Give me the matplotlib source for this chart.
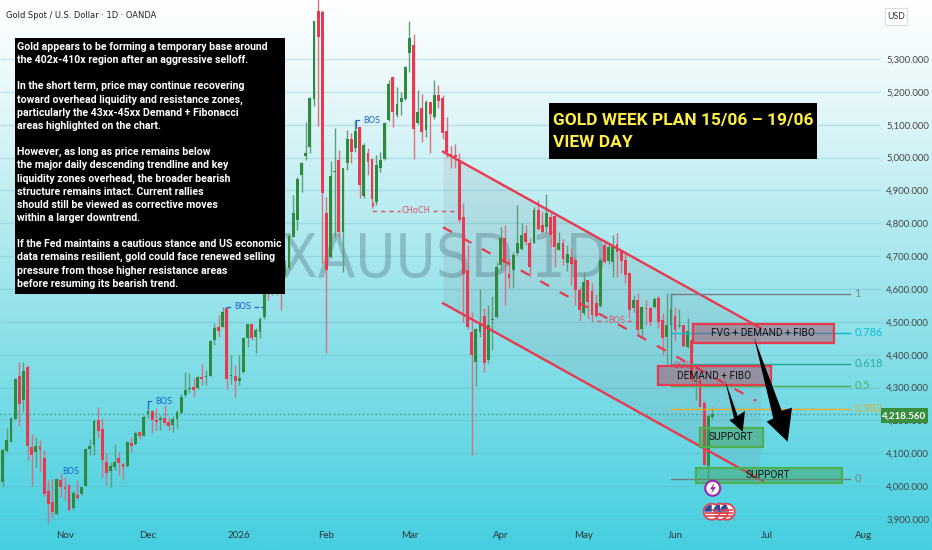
import numpy as np
import matplotlib
matplotlib.use("Agg")
import matplotlib.pyplot as plt
from matplotlib.colors import LinearSegmentedColormap
from matplotlib.patches import Rectangle, Polygon, Circle, Wedge
from matplotlib.transforms import Affine2D

plt.rcParams['font.family'] = ['Lato', 'DejaVu Sans']

# daily candles
opens = [
    4014, 4108, 4135, 4203, 4335, 4262, 4363, 4120, 4105, 4122,
    4085, 3986, 3953, 3914, 4019, 3996, 4003, 3932, 3973, 3975,
    4001, 4112, 4125, 4201, 4174, 4074, 4047, 4059, 4086, 4067,
    4061, 4132, 4128, 4164, 4153, 4219, 4229, 4201, 4201, 4206,
    4196, 4186, 4203, 4224, 4277, 4297, 4303, 4299, 4333, 4331,
    4335, 4444, 4485, 4485, 4541, 4335, 4336, 4321, 4348, 4450,
    4495, 4453, 4470, 4516, 4627, 4587, 4620, 4617, 4643, 4663,
    4759, 4810, 4947, 5005, 5031, 5177, 5446, 5444, 4830, 4698,
    4957, 4993, 4774, 4984, 5055, 5028, 5092, 4883, 5015, 4996,
    4866, 4967, 4996, 5114, 5244, 5130, 5170, 5177, 5317, 5343,
    5104, 5150, 5084, 5170, 5124, 5190, 5180, 5082, 5011, 5008,
    4993, 4820, 4658, 4470, 4379, 4470, 4518, 4384, 4507, 4514,
    4673, 4754, 4646, 4658, 4710, 4722, 4771, 4741, 4741, 4840,
    4795, 4790, 4820, 4822, 4719, 4741, 4678, 4696, 4688, 4597,
    4526, 4627, 4595, 4556, 4548, 4734, 4686, 4683, 4737, 4719,
    4688, 4650, 4541, 4567, 4477, 4541, 4541, 4544, 4572, 4506,
    4455, 4491, 4518, 4488, 4491, 4423, 4445, 4318, 4323, 4252,
    4060, 4210,
]
highs = [
    4115, 4176, 4211, 4328, 4377, 4377, 4370, 4158, 4150, 4140,
    4110, 4019, 4024, 4024, 4041, 4029, 4006, 3986, 4019, 3998,
    4115, 4145, 4203, 4242, 4206, 4102, 4074, 4128, 4105, 4074,
    4138, 4150, 4169, 4164, 4216, 4260, 4232, 4237, 4216, 4247,
    4211, 4213, 4232, 4280, 4348, 4345, 4328, 4335, 4372, 4355,
    4444, 4497, 4520, 4546, 4546, 4399, 4368, 4399, 4455, 4495,
    4495, 4480, 4515, 4620, 4635, 4640, 4622, 4617, 4688, 4769,
    4886, 4940, 4987, 5109, 5185, 5417, 5500, 5449, 4881, 4990,
    5089, 5023, 4967, 5084, 5074, 5114, 5094, 5043, 5028, 4998,
    5008, 5018, 5109, 5236, 5248, 5216, 5200, 5279, 5417, 5376,
    5206, 5192, 5175, 5170, 5236, 5221, 5190, 5124, 5035, 5041,
    5013, 4862, 4734, 4531, 4480, 4599, 4541, 4551, 4579, 4683,
    4790, 4795, 4693, 4713, 4855, 4800, 4795, 4754, 4850, 4870,
    4835, 4889, 4835, 4825, 4774, 4751, 4734, 4724, 4693, 4607,
    4653, 4627, 4617, 4586, 4693, 4749, 4744, 4764, 4769, 4719,
    4708, 4653, 4582, 4587, 4548, 4567, 4544, 4577, 4579, 4526,
    4587, 4582, 4544, 4538, 4491, 4511, 4480, 4328, 4330, 4258,
    4220, 4242,
]
lows = [
    3996, 4105, 4135, 4201, 4184, 4226, 4079, 4000, 4059, 4044,
    3970, 3887, 3907, 3912, 3968, 3958, 3925, 3927, 3960, 3973,
    4000, 4095, 4095, 4150, 4029, 4003, 3996, 4049, 4034, 4019,
    4059, 4105, 4125, 4142, 4152, 4206, 4161, 4171, 4171, 4186,
    4171, 4166, 4176, 4221, 4272, 4282, 4270, 4297, 4308, 4308,
    4335, 4429, 4455, 4483, 4297, 4311, 4272, 4308, 4345, 4424,
    4445, 4404, 4450, 4510, 4566, 4582, 4582, 4535, 4637, 4658,
    4757, 4780, 4896, 4993, 5013, 5157, 5096, 4678, 4405, 4693,
    4759, 4757, 4653, 4962, 4984, 5018, 4876, 4876, 4947, 4845,
    4856, 4957, 4993, 5112, 5092, 5124, 5130, 5175, 5261, 4995,
    5102, 5048, 5064, 5015, 5117, 5150, 5055, 5003, 4967, 4967,
    4805, 4500, 4477, 4095, 4305, 4453, 4348, 4374, 4414, 4511,
    4658, 4551, 4602, 4602, 4703, 4719, 4734, 4637, 4739, 4781,
    4770, 4769, 4729, 4668, 4718, 4673, 4656, 4612, 4551, 4505,
    4521, 4511, 4500, 4515, 4546, 4678, 4676, 4637, 4637, 4648,
    4617, 4511, 4531, 4460, 4450, 4491, 4486, 4541, 4480, 4399,
    4369, 4483, 4445, 4480, 4423, 4420, 4318, 4262, 4240, 4065,
    4024, 4205,
]
closes = [
    4110, 4140, 4206, 4325, 4250, 4351, 4122, 4095, 4122, 4110,
    3975, 3946, 3920, 4021, 3996, 3990, 3927, 3978, 3963, 3996,
    4112, 4122, 4199, 4168, 4079, 4041, 4062, 4074, 4071, 4057,
    4133, 4123, 4161, 4153, 4211, 4229, 4201, 4194, 4206, 4191,
    4183, 4203, 4226, 4272, 4294, 4300, 4294, 4333, 4327, 4335,
    4442, 4480, 4472, 4529, 4326, 4338, 4320, 4328, 4450, 4492,
    4450, 4475, 4510, 4597, 4597, 4625, 4607, 4587, 4668, 4762,
    4830, 4935, 4984, 5013, 5182, 5417, 5366, 4891, 4658, 4944,
    4960, 4774, 4967, 5055, 5018, 5082, 4917, 5038, 4988, 4874,
    4977, 4993, 5106, 5224, 5140, 5163, 5182, 5277, 5365, 5086,
    5138, 5077, 5170, 5133, 5190, 5172, 5074, 5018, 5008, 5003,
    4810, 4646, 4485, 4399, 4477, 4493, 4374, 4490, 4510, 4666,
    4754, 4678, 4632, 4703, 4739, 4764, 4744, 4666, 4840, 4784,
    4774, 4832, 4764, 4727, 4739, 4690, 4708, 4676, 4597, 4536,
    4622, 4561, 4521, 4519, 4688, 4683, 4727, 4727, 4713, 4686,
    4642, 4536, 4565, 4475, 4544, 4538, 4501, 4569, 4501, 4450,
    4491, 4538, 4475, 4491, 4427, 4473, 4322, 4323, 4242, 4065,
    4212, 4218.56,
]

price_ticks = np.arange(3900, 5301, 100)
month_ticks = [16, 36, 58, 78.9, 99.1, 121, 141, 163, 185.2, 208.3]
month_labels = ["Nov", "Dec", "2026", "Feb", "Mar", "Apr", "May", "Jun", "Jul", "Aug"]
last_price = 4218.56

fib_levels = [4586, 4467, 4372, 4306, 4236, 4022]
fib_labels = ["1", "0.786", "0.618", "0.5", "0.382", "0"]
fib_colors = ["#787b86", "#00bcd4", "#26a69a", "#4caf50", "#eeaa22", "#787b86"]

note_text = """Gold appears to be forming a temporary base around
the 402x-410x region after an aggressive selloff.

In the short term, price may continue recovering
toward overhead liquidity and resistance zones,
particularly the 43xx-45xx Demand + Fibonacci
areas highlighted on the chart.

However, as long as price remains below
the major daily descending trendline and key
liquidity zones overhead, the broader bearish
structure remains intact. Current rallies
should still be viewed as corrective moves
within a larger downtrend.

If the Fed maintains a cautious stance and US economic
data remains resilient, gold could face renewed selling
pressure from those higher resistance areas
before resuming its bearish trend."""

RED = "#e8394f"
GREEN = "#2e8b3e"
BLUE = "#1e62d0"
PINK = "#e0506a"
COND = dict(family="DejaVu Sans", stretch="condensed")

fig = plt.figure(figsize=(9.32, 5.5), dpi=100)
ax = fig.add_axes([0, 0, 1, 1])

# annotations sit on screen, so give them a pixel transform (y going down)
px = Affine2D().scale(1, -1).translate(0, 550)

cmap = LinearSegmentedColormap.from_list("bg", ["#ffffff", "#e2f6f9", "#b5ebf0", "#8ee0e9", "#69d8e4", "#45cfe0"])
ax.imshow(np.linspace(0, 1, 256).reshape(-1, 1), cmap=cmap, aspect="auto",
          extent=(0, 1, 0, 1), transform=ax.transAxes, zorder=0)
ax.set_xlim(0.357, 224.9)
ax.set_ylim(3805.7, 5479.5)

ax.hlines(price_ticks, 0.357, 212.4, color="#5fa8b8", alpha=0.25, lw=1, zorder=1)
ax.hlines(last_price, 0.357, 212.4, color="#2e8b6e", lw=1, ls=(0, (1, 2)), alpha=0.8, zorder=1)

ax.text(444, 260, "XAUUSD 1D", transform=px, fontsize=44, color="#5b7f8c", alpha=0.42,
        ha="center", va="center", zorder=2, **COND)

# descending channel
up_x, up_y = [107.1, 183.5], [5017.8, 4481.9]
lo_x, lo_y = [107.1, 184.1], [4556.5, 4015.7]
mid_x, mid_y = [107.1, 182.5], [4787.8, 4260]
ax.fill_between(up_x, up_y, [4556.5, 4020], color="#787b86", alpha=0.12, lw=0, zorder=2)

# candles
idx = np.arange(1, len(opens) + 1)
o, h, l, c = map(np.array, (opens, highs, lows, closes))
up = c >= o
ax.vlines(idx[up], l[up], h[up], color="#5f9e78", lw=1, zorder=3)
ax.vlines(idx[~up], l[~up], h[~up], color="#d8707f", lw=1, zorder=3)
ax.bar(idx[up], (c - o)[up], bottom=o[up], width=0.68, color=GREEN, zorder=4)
ax.bar(idx[~up], (c - o)[~up], bottom=o[~up], width=0.68, color=RED, zorder=4)

ax.plot(up_x, up_y, color=RED, lw=1.7, zorder=5)
ax.plot(lo_x, lo_y, color=RED, lw=1.7, zorder=5)
ax.plot(mid_x, mid_y, color=RED, lw=1.6, ls=(0, (4.5, 5.5)), zorder=5)

# fibonacci levels
for lvl, lab, col in zip(fib_levels, fib_labels, fib_colors):
    ax.plot([162, 205.2], [lvl, lvl], color=col, lw=1, zorder=5)
    ax.annotate(lab, (206.2, lvl), color=col, fontsize=8, va="center", ha="left", zorder=6, alpha=0.9)
ax.plot([162, 162], [4372, 4586], color="#4f8f85", lw=1, zorder=5)

# structure labels
for x, y, t in [(71, 472, "BOS"), (164, 401, "BOS"), (243, 306.5, "BOS"), (372, 120.5, "BOS")]:
    ax.text(x, y, t, transform=px, color=BLUE, fontsize=6.6, ha="center", va="center", zorder=6, **COND)
ax.plot([226, 232], [306.5, 306.5], transform=px, color=BLUE, lw=0.9, ls="--", zorder=5)
ax.plot([254, 263], [306.5, 306.5], transform=px, color=BLUE, lw=0.9, ls="--", zorder=5)
ax.plot([148, 148, 151], [408, 401, 401], transform=px, color=BLUE, lw=0.8, zorder=5)
ax.plot([356, 356, 359], [128, 120, 120], transform=px, color=BLUE, lw=0.8, zorder=5)

ax.text(416, 210.5, "CHoCH", transform=px, color=PINK, fontsize=6.6, ha="center", va="center", zorder=6, **COND)
ax.plot([373, 373, 400], [202, 210.7, 210.7], transform=px, color=PINK, lw=1, ls=(0, (3, 3)), zorder=5)
ax.plot([433, 457], [210.7, 210.7], transform=px, color=PINK, lw=1, ls=(0, (3, 3)), zorder=5)
ax.text(617, 320.5, "BOS", transform=px, color=PINK, fontsize=6.6, ha="center", va="center", zorder=6, **COND)
ax.plot([597, 607], [320.5, 320.5], transform=px, color=PINK, lw=1, ls=(0, (3, 3)), zorder=5)
ax.plot([627, 632], [320.5, 320.5], transform=px, color=PINK, lw=1, ls=(0, (3, 3)), zorder=5)
ax.text(681.5, 365, "BOS", transform=px, color=PINK, fontsize=6.6, ha="center", va="center", zorder=6, **COND)

# zones
zones = [
    (692.7, 324, 141, 19.3, RED, "#b8304a", "FVG + DEMAND + FIBO", 762.7, 332.5),
    (658.3, 366.3, 112.7, 18.7, RED, "#b8304a", "DEMAND + FIBO", 714.3, 375.7),
    (700.3, 427.7, 63, 19, "#4caf50", "#3c9a48", "SUPPORT", 731, 437),
    (695.7, 468, 146, 15.3, "#4caf50", "#3c9a48", "SUPPORT", 768.3, 474.5),
]
for x, y, w, hh, edge, face, lab, tx, ty in zones:
    ax.add_patch(Rectangle((x, y), w, hh, transform=px, facecolor=face, alpha=0.4, lw=0, zorder=6))
    ax.add_patch(Rectangle((x, y), w, hh, transform=px, fill=False, edgecolor=edge, lw=1.6, zorder=6))
    ax.text(tx, ty, lab, transform=px, color="#111111", fontsize=7.3, ha="center", va="center",
            family="Roboto", zorder=7)

# arrows
big = [(754, 337.3), (781.7, 410.7), (792, 407.7), (787.7, 441.7), (766.7, 421.7), (773.3, 418.3)]
small = [(725, 380), (737.7, 416), (745, 411), (742.7, 431.7), (729.3, 420), (734, 418.3)]
ax.add_patch(Polygon(big, closed=True, transform=px, color="black", lw=0, zorder=8))
ax.add_patch(Polygon(small, closed=True, transform=px, color="black", lw=0, zorder=8))

# event icons
ax.add_patch(Circle((712.7, 488.3), 7.5, transform=px, facecolor="white", edgecolor="#9c27b0", lw=1.5, zorder=8))
ax.add_patch(Polygon([(714.5, 483), (709.8, 489.3), (712.6, 489.3), (711, 493.8), (716, 487.2), (713.2, 487.2)],
                     closed=True, transform=px, color="#9c27b0", lw=0, zorder=9))
for fx in [726.7, 720, 711.7]:
    ax.add_patch(Circle((fx, 511.7), 8, transform=px, facecolor="white", edgecolor="#e0434f", lw=1.3, zorder=8))
    for dy in (-3.2, 0, 3.2):
        ax.plot([fx - 6.5, fx + 6.5], [511.7 + dy + 1.2, 511.7 + dy + 1.2], transform=px, color="#e0434f", lw=1.2,
                solid_capstyle="butt", zorder=9)
    ax.add_patch(Wedge((fx, 511.7), 7, 180, 270, transform=px, facecolor="#2b4c9b", lw=0, zorder=9))

# text boxes
ax.add_patch(Rectangle((14.5, 37.5), 270.5, 256.5, transform=px, color="black", lw=0, zorder=10))
ax.text(17, 41.5, note_text, transform=px, color="white", fontsize=7.55, weight="bold", ha="left", va="top",
        linespacing=1.385, family="Roboto", zorder=11)
ax.add_patch(Rectangle((549, 103.3), 267.7, 56, transform=px, color="black", lw=0, zorder=10))
ax.text(553, 120.7, "GOLD WEEK PLAN 15/06 – 19/06", transform=px, color="#ffee44", fontsize=12.5, weight="bold",
        ha="left", va="center", family="Roboto", zorder=11)
ax.text(553, 142.7, "VIEW DAY", transform=px, color="#ffee44", fontsize=12.5, weight="bold",
        ha="left", va="center", family="Roboto", zorder=11)

ax.text(6, 16, "Gold Spot / U.S. Dollar · 1D · OANDA", transform=px, color="#222222", fontsize=6.7,
        ha="left", va="center", zorder=11, **COND)

# last price tag and currency button
ax.add_patch(Rectangle((880.7, 408.3), 47.3, 15, transform=px, color="#388e3c", lw=0, zorder=10))
ax.text(904.3, 416, "4,218.560", transform=px, color="white", fontsize=7, weight="bold",
        ha="center", va="center", zorder=11)
ax.add_patch(Rectangle((885, 8), 22, 17, transform=px, facecolor="white", edgecolor="#d8dde0", lw=0.8, zorder=10))
ax.text(896, 16.5, "USD", transform=px, color="#333333", fontsize=6.3, ha="center", va="center", zorder=11)

# price and time scales drawn inside the figure
ax.set_yticks(price_ticks, [f"{v:,.3f}" for v in price_ticks])
ax.set_xticks(month_ticks, month_labels)
ax.yaxis.tick_right()
ax.tick_params(axis="y", length=0, pad=-33, labelsize=6.8, labelcolor="#444444")
ax.tick_params(axis="x", length=0, pad=-14, labelsize=7, labelcolor="#333333")
for spine in ax.spines.values():
    spine.set_visible(False)

assert len(opens) == len(highs) == len(lows) == len(closes)
fig.savefig("out.png", dpi=100)
